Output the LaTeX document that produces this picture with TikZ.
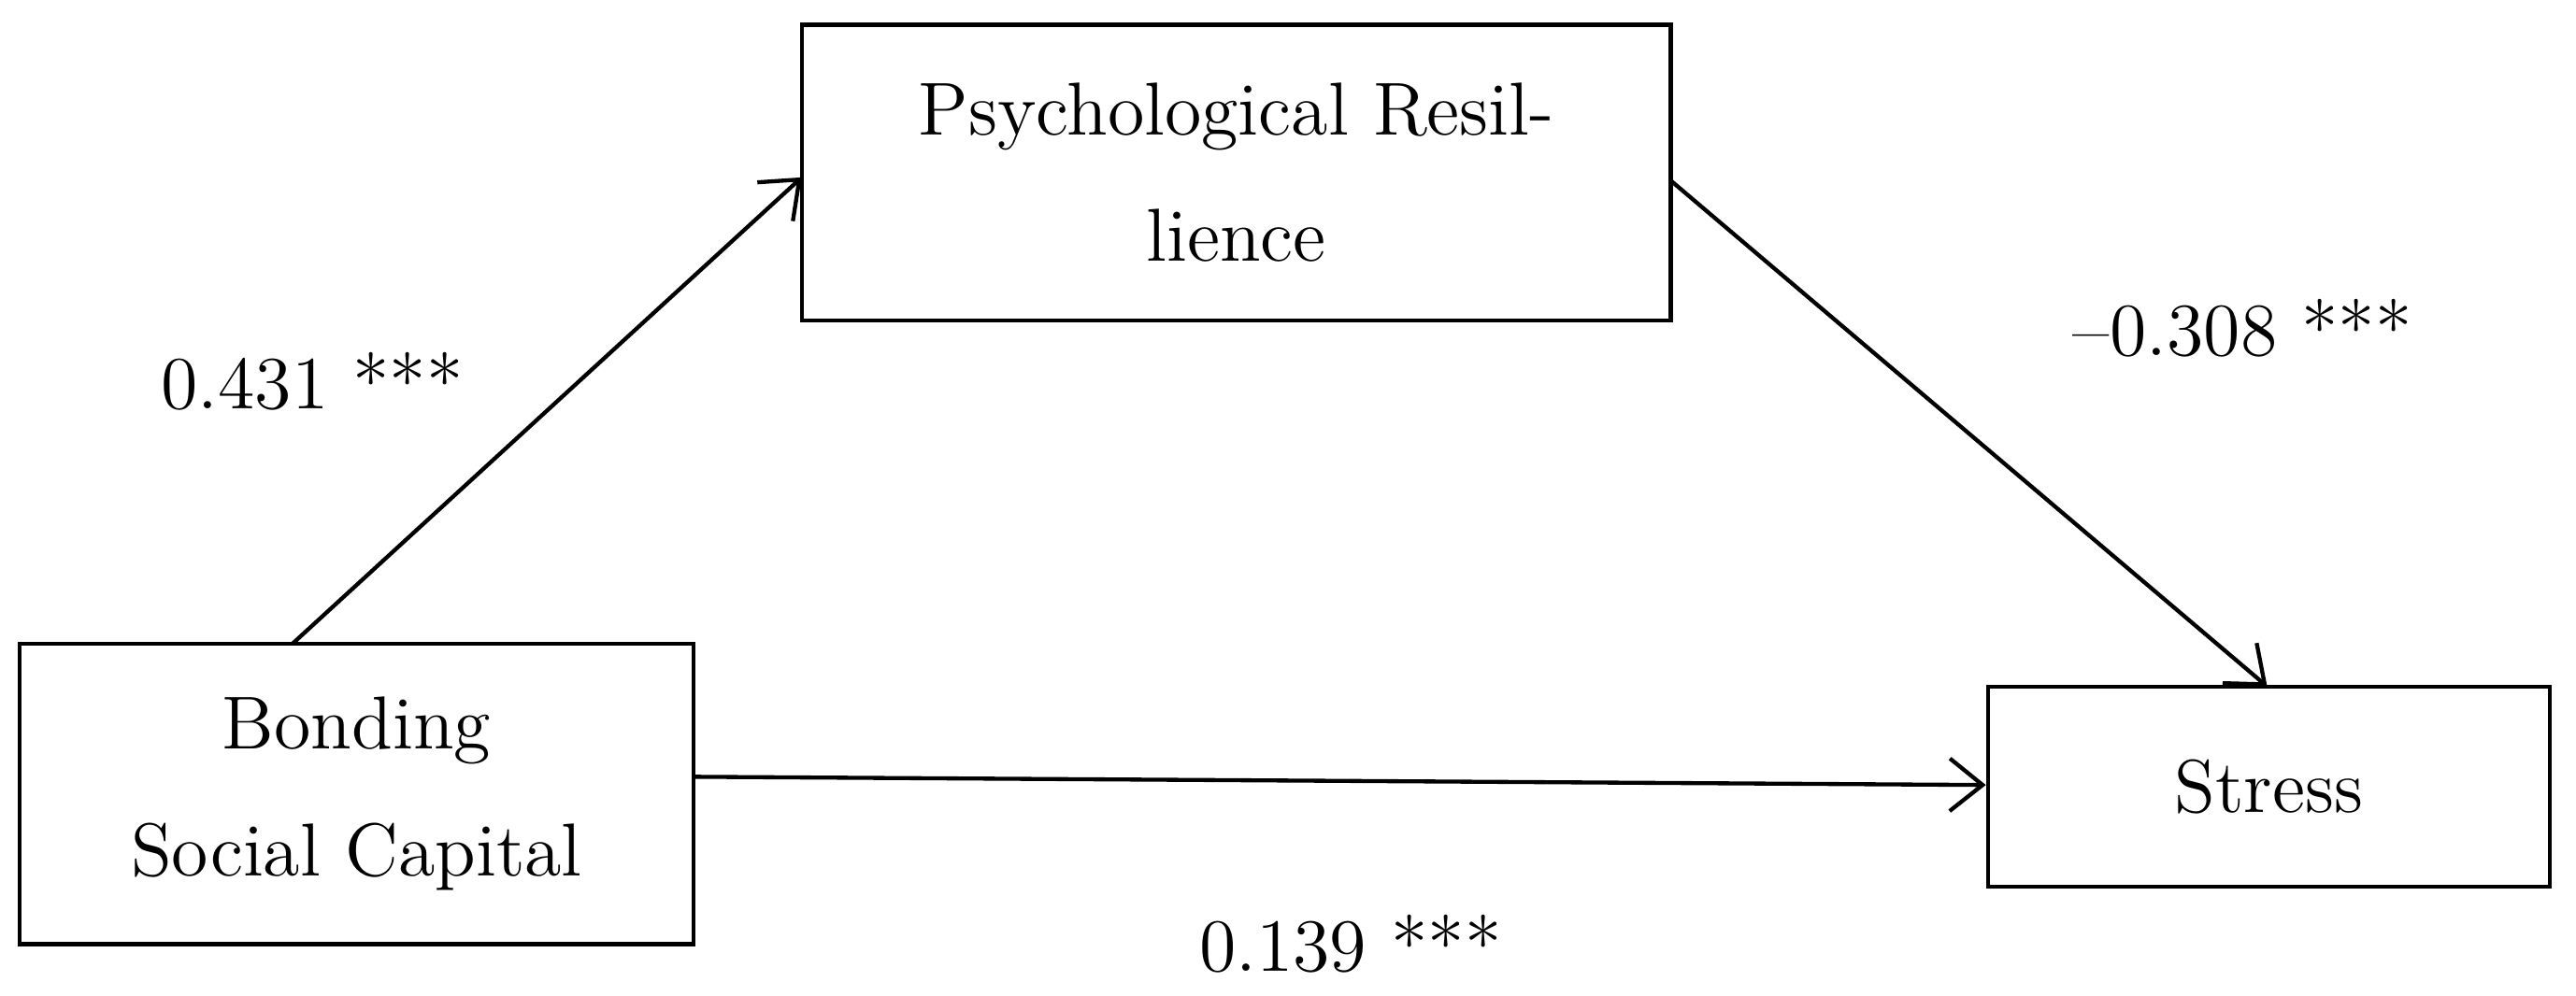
\documentclass[tikz,border=0pt]{standalone}
\usetikzlibrary{arrows.meta}
\begin{document}
\begin{tikzpicture}[
  box/.style={draw,line width=0.7pt,inner sep=0pt,align=center,font=\fontsize{13}{22}\selectfont},
  conn/.style={line width=0.7pt,-{Straight Barb[length=2mm,width=3.2mm,line width=0.7pt]}},
  lab/.style={font=\fontsize{13}{15}\selectfont}]
\useasboundingbox (0,0) rectangle (15.68,6.06);
\node[box,minimum width=5.29cm,minimum height=1.80cm] (psy) at (7.525,5.01) {Psychological Resil-\\lience};
\node[box,minimum width=4.10cm,minimum height=1.83cm] (bsc) at (2.17,1.225) {Bonding\\Social Capital};
\node[box,minimum width=3.42cm,minimum height=1.22cm] (str) at (13.81,1.27) {Stress};
\coordinate (a1) at (1.78,2.14);
\coordinate (a2) at (4.88,4.98);
\coordinate (b1) at (10.17,4.96);
\coordinate (b2) at (13.80,1.88);
\draw[conn] (a1) -- (a2);
\draw[conn] (b1) -- (b2);
\draw[conn] (bsc.east |- 0,1.33) -- (str.west |- 0,1.28);
\node[lab] (l1) at (1.90,3.74) {0.431 ***};
\node[lab] (l2) at (13.65,4.06) {\textendash0.308 ***};
\node[lab] (l3) at (8.22,0.31) {0.139 ***};
\end{tikzpicture}
\end{document}
